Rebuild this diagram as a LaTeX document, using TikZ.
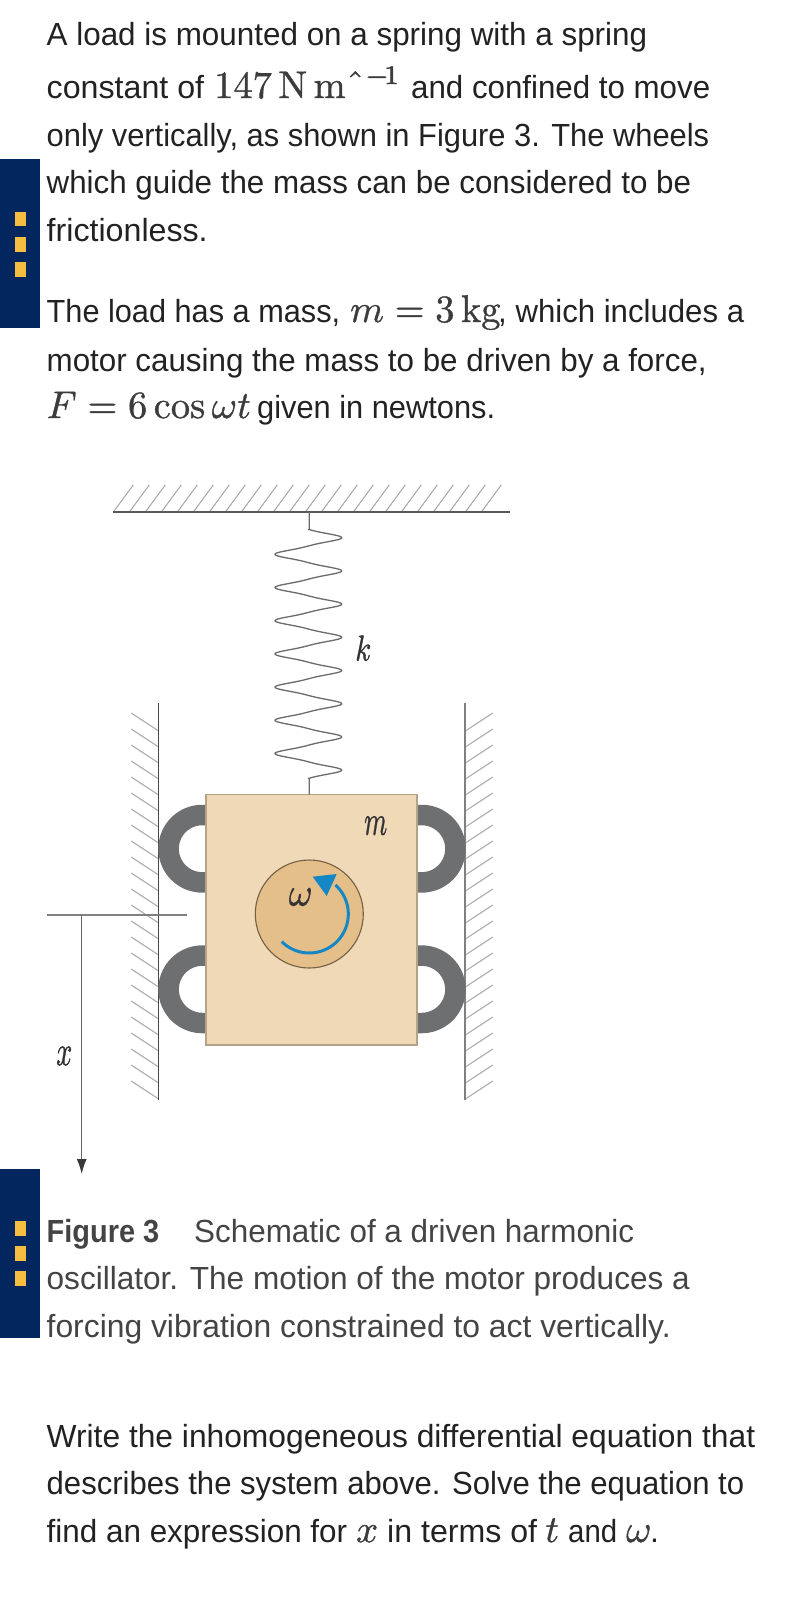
\documentclass[tikz,border=0pt]{standalone}
\usepackage[no-math]{fontspec}
\usepackage{graphicx}
\setmainfont{Liberation Sans}
\usetikzlibrary{arrows.meta}
\definecolor{navybar}{HTML}{03265E}
\definecolor{yellowmark}{HTML}{F5BE41}
\definecolor{bodytext}{HTML}{222222}
\definecolor{captext}{HTML}{444444}
\definecolor{mathtext}{HTML}{3C3C3C}
\definecolor{boxfill}{HTML}{EFD9B7}
\definecolor{motorfill}{HTML}{E5BF8A}
\definecolor{wheelgray}{HTML}{6E6F71}
\definecolor{blueturn}{HTML}{1487C4}
\tikzset{
  txt/.style={anchor=base west,inner sep=0pt,text=bodytext,font=\fontsize{32}{38}\selectfont},
  captxt/.style={txt,text=captext},
  mth/.style={anchor=base west,inner sep=0pt,text=mathtext},
  lab/.style={anchor=center,inner sep=0pt,text=black!80},
  hatchline/.style={draw=black!35,line width=1pt},
  wallL/.style={draw=black!72,line width=1.4pt},
  wallR/.style={draw=black!50,line width=1.8pt},
  wheelring/.style={draw=wheelgray,line width=20.5pt},
  yelmark/.style={fill=yellowmark,draw=none},
  navyfill/.style={fill=navybar,draw=none},
  guide/.style={draw=black!60,line width=1.3pt},
}
\newcommand{\heavy}[2]{\special{pdf:code 2 Tr #1 w}#2\special{pdf:code 0 Tr 1 w}}
\newcommand{\tl}[6][txt]{\node[#1] (#2) at (#3,#4) {\resizebox{#5pt}{\height}{#6}};}
\newcommand{\mt}[4]{\node[mth] (#1) at (#2,#3) {\scalebox{3.85}{\heavy{0.09}{$#4$}}};}
\newcommand{\mlab}[6]{\node[lab] (#1) at (#2,#3) {\scalebox{#4}[#5]{\heavy{0.12}{$#6$}}};}
\begin{document}
\begin{tikzpicture}[x=1pt,y=-1pt]
\useasboundingbox (0,0) rectangle (810,1598);
\fill[white] (0,0) rectangle (810,1598);
% side bars
\fill[navyfill] (0,159) rectangle (40,328);
\fill[yelmark] (14.5,212) rectangle (26,226);
\fill[yelmark] (14.5,237) rectangle (26,252);
\fill[yelmark] (14.5,262) rectangle (26,277);
\fill[navyfill] (0,1169) rectangle (40,1338);
\fill[yelmark] (14.5,1221) rectangle (26,1236);
\fill[yelmark] (14.5,1246) rectangle (26,1261);
\fill[yelmark] (14.5,1271) rectangle (26,1286);
% top text
\tl{a1}{46.5}{45.7}{600.5}{A load is mounted on a spring with a spring}
\tl{a2}{46.5}{98}{157.5}{constant of}
\mt{m1}{214}{98}{147\,\mathrm{N\,m}\mathchar"05E^{-\!1}}
\tl{a2b}{411}{98}{299}{and confined to move}
\tl{a3}{46.5}{146}{662.5}{only vertically, as shown in Figure 3. The wheels}
\tl{a4}{46.5}{193}{644.5}{which guide the mass can be considered to be}
\tl{a5}{46.5}{241}{161}{frictionless.}
\tl{b1}{46.5}{322}{293.5}{The load has a mass,}
\mt{m2}{350}{322}{m=3\,\mathrm{kg}}
\tl{b1b}{498}{322}{246}{, which includes a}
\tl{b2}{46.5}{371}{660}{motor causing the mass to be driven by a force,}
\mt{m3}{46.5}{418}{F=6\cos\omega t}
\tl{b3}{257}{418}{238}{given in newtons.}
% ceiling
\foreach \i in {0,...,23} {\draw[hatchline] (113.3+16*\i,512) -- ++(20,-27);}
\coordinate (ceilL) at (113,512);
\coordinate (ceilR) at (510,512);
\draw[draw=black!65,line width=1.5pt] (ceilL) -- (ceilR);
% walls
\foreach \i in {0,...,23} {
  \draw[hatchline] (158.7,731+16*\i) -- ++(-27.5,-18);
  \draw[hatchline] (465.3,731+16*\i) -- ++(27.5,-18);
}
\coordinate (wlT) at (158.7,702.7); \coordinate (wlB) at (158.7,1100);
\coordinate (wrT) at (465.3,702.7); \coordinate (wrB) at (465.3,1100);
\draw[wallL] (wlT) -- (wlB);
\draw[wallR] (wrT) -- (wrB);
% wheels
\foreach \cy in {848.7,989.3} {
  \draw[wheelring] (215,\cy-33.7) -- plot[domain=90:270,samples=41] ({202.3+33.7*cos(\x)},{\cy-33.7*sin(\x)}) -- (215,\cy+33.7);
  \draw[wheelring] (410,\cy-33.7) -- plot[domain=90:-90,samples=41] ({421.7+33.7*cos(\x)},{\cy-33.7*sin(\x)}) -- (410,\cy+33.7);
}
% load
\node[draw=black!25!boxfill,line width=1.2pt,fill=boxfill,minimum width=211pt,minimum height=250.3pt,inner sep=0pt] (load) at (311.5,919.85) {};
% spring
\coordinate (springT) at (309.3,512);
\coordinate (springB) at (309.3,794.7);
\draw[draw=black!58,line width=1.3pt,line join=round]
  (springT) -- (309.3,529.4) -- plot[domain=-90:2610,samples=541] ({308.35+30.02*(cos(\x)+cos(3*\x)/9)},{537.7+\x*0.09222}) -- (309.3,778.4) -- (springB);
% motor
\node[circle,draw=black!50!motorfill,line width=1.1pt,fill=motorfill,minimum size=108pt,inner sep=0pt] (motor) at (309.3,914) {};
\draw[draw=blueturn,line width=3pt] plot[domain=-135:48,samples=60] ({309.3+39*cos(\x)},{914-39*sin(\x)});
\fill[blueturn] (312.7,876.7) -- (336.7,874) -- (326.7,896) -- cycle;
% x dimension
\coordinate (xL) at (47.3,915); \coordinate (xR) at (186.7,915);
\coordinate (xT) at (81.7,915); \coordinate (xA) at (81.7,1174);
\draw[guide,draw=black!50] (xL) -- (xR);
\draw[guide,-{Latex[length=15pt,width=10pt,color=black!78]}] (xT) -- (xA);
% labels
\mlab{lk}{363.3}{648}{2.9}{3.6}{k}
\mlab{lm}{375.7}{825.7}{2.6}{4.2}{m}
\mlab{lw}{300.7}{897}{3.6}{4.0}{\omega}
\mlab{lx}{64.3}{1056}{2.8}{4.2}{x}
% caption
\node[captxt,font=\fontsize{32}{38}\selectfont\bfseries] (c0) at (46.5,1242) {\resizebox{112.5pt}{\height}{Figure 3}};
\tl[captxt]{c1}{194}{1242}{440}{Schematic of a driven harmonic}
\tl[captxt]{c2}{46.5}{1289}{643}{oscillator. The motion of the motor produces a}
\tl[captxt]{c3}{46.5}{1337}{624}{forcing vibration constrained to act vertically.}
% question
\tl{d1}{46.5}{1447}{708.5}{Write the inhomogeneous differential equation that}
\tl{d2}{46.5}{1494}{697.5}{describes the system above. Solve the equation to}
\tl{d3}{46.5}{1542}{300.5}{find an expression for}
\mt{mx}{356}{1542}{x}
\tl{d3b}{387}{1542}{150}{in terms of}
\mt{mt}{545}{1542}{t}
\tl{d3c}{568}{1542}{49}{and}
\mt{mw}{626}{1542}{\omega}
\node[txt] (d3d) at (650,1542) {.};
\end{tikzpicture}
\end{document}
